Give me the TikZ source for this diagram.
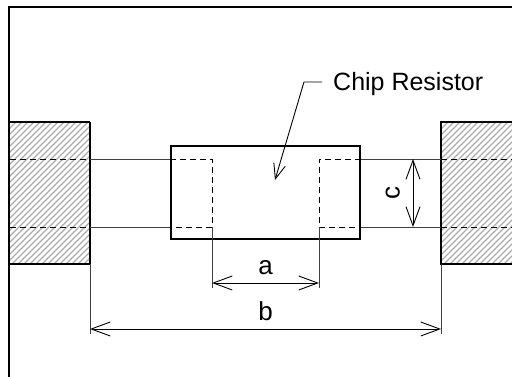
\documentclass[tikz,border=0pt]{standalone}
\usepackage{fontspec}
\setmainfont{Liberation Sans}
\usetikzlibrary{arrows.meta,positioning}

\begin{document}
\begin{tikzpicture}[x=1pt,y=-1pt,
    dim/.style={line width=.9pt,{Straight Barb[length=19pt,width=14pt]}-{Straight Barb[length=19pt,width=14pt]}},
    ext/.style={line width=.9pt,black!75},
    padline/.style={line width=1.2pt},
    hidden/.style={line width=.9pt,dash pattern=on 6pt off 4pt},
    lbl/.style={font=\fontsize{26}{30}\selectfont,inner sep=0pt}]
    \useasboundingbox (0,0) rectangle (512,377);
    \clip (0,0) rectangle (512,377);
    % hatched land pads
    \begin{scope}
      \clip (10,122) rectangle (90,264) (441,122) rectangle (520,264);
      \foreach \i in {-150,-144,...,530}
        \draw[gray!65,line width=1.4pt] (\i,264) -- ++(150,-150);
    \end{scope}
    \draw[padline] (90,122) -- (10,122) (10,264) -- (90,264) -- (90,122);
    \draw[padline] (520,122) -- (441,122) -- (441,264) -- (520,264);
    % frame
    \draw[line width=2pt] (9,380) -- (9,7) -- (520,7);
    % chip body
    \node[draw,line width=1.8pt,minimum width=189pt,minimum height=93pt,inner sep=0pt]
      (chip) at (265.5,192.5) {};
    % terminals and pad edges
    \draw[hidden] (10,159) -- (90,159) (10,227) -- (90,227);
    \draw[hidden] (441,159) -- (520,159) (441,227) -- (520,227);
    \draw[ext] (90,159) -- (chip.west |- 0,159) (90,227) -- (chip.west |- 0,227);
    \draw[ext] (chip.east |- 0,159) -- (441,159) (chip.east |- 0,227) -- (441,227);
    \draw[hidden] (chip.west |- 0,159) -- (212,159) -- (212,227) -- (chip.west |- 0,227);
    \draw[hidden] (chip.east |- 0,159) -- (319,159) -- (319,227) -- (chip.east |- 0,227);
    % extension lines
    \draw[ext] (212,227) -- (212,288) (319,227) -- (319,288);
    \draw[ext] (90,264) -- (90,334) (441,264) -- (441,334);
    % dimensions
    \coordinate (a_l) at (212,283);
    \coordinate (a_r) at (319,283);
    \coordinate (b_l) at (90,329);
    \coordinate (b_r) at (441,329);
    \coordinate (c_t) at (413,159);
    \coordinate (c_b) at (413,227);
    \draw[dim] (a_l) -- node[lbl,above=8pt] (lbl_a) {a} (a_r);
    \draw[dim] (b_l) -- node[lbl,above=8pt] (lbl_b) {b} (b_r);
    \draw[dim] (c_t) -- coordinate (c_m) (c_b);
    \node[lbl,rotate=90,anchor=south] (lbl_c) at ([xshift=-13pt]c_m) {c};
    % leader
    \node[font=\fontsize{25}{30}\selectfont,inner sep=0pt,anchor=base west]
      (chip_lbl) at (333,91) {Chip Resistor};
    \coordinate (lead_s) at (322,82);
    \coordinate (lead_k) at (304,82);
    \coordinate (lead_e) at (275,180);
    \draw[line width=.9pt,-{Straight Barb[length=15pt,width=12pt]}]
      (lead_s) -- (lead_k) -- (lead_e);
\end{tikzpicture}
\end{document}
